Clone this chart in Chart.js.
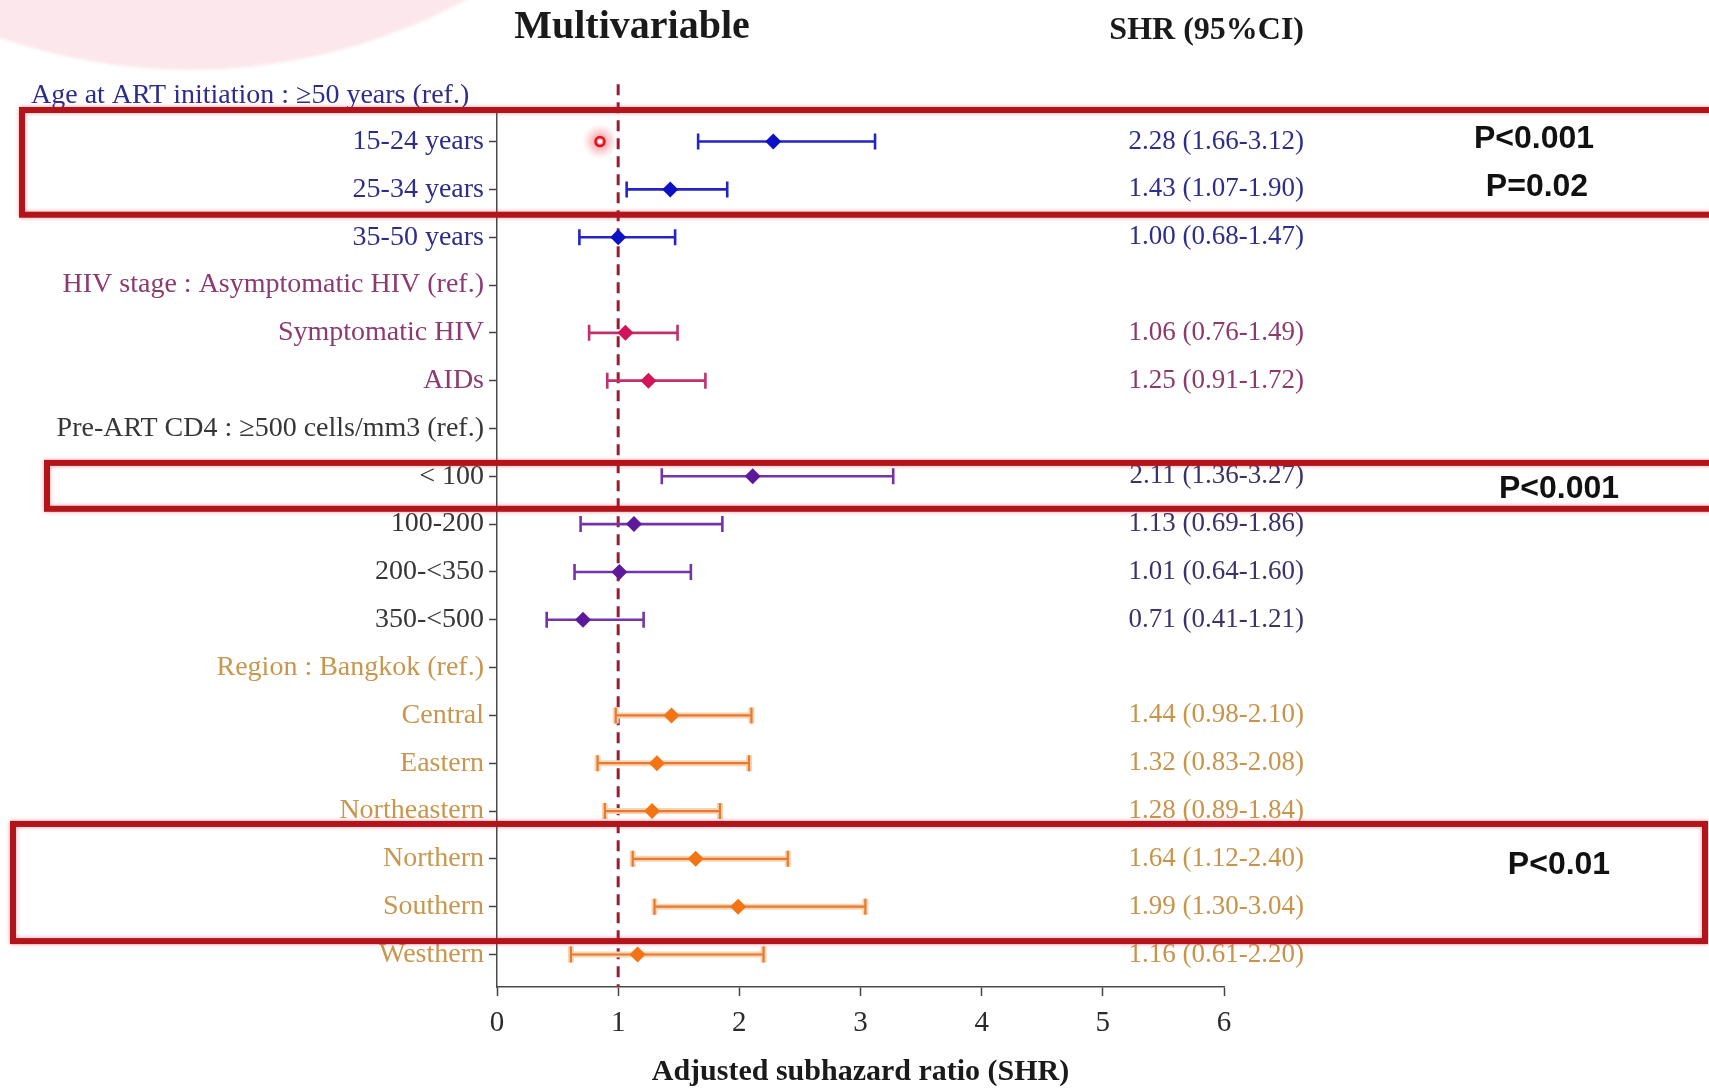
<!DOCTYPE html>
<html>
<head>
<meta charset="utf-8">
<title>Multivariable SHR</title>
<script src="https://cdn.jsdelivr.net/npm/chart.js@4.4.1/dist/chart.umd.min.js"></script>
<style>
  html, body { margin: 0; padding: 0; background: #fff; }
  #wrap { position: relative; width: 1709px; height: 1090px; overflow: hidden; background: #fff; }
  /* pale pink disc in the top-left corner */
  #blob { position: absolute; left: -390px; top: -1090px; width: 1160px; height: 1160px;
          border-radius: 50%; background: #fce8ec; filter: blur(1.5px); }
  #chart { position: absolute; left: 0; top: 0; }
</style>
</head>
<body>
<div id="wrap">
  <div id="blob"></div>
  <canvas id="chart" width="1709" height="1090"></canvas>
</div>
<script>
/* ── data ── */
const rows = [
  'Age at ART initiation : ≥50 years (ref.)',
  '15-24 years', '25-34 years', '35-50 years',
  'HIV stage : Asymptomatic HIV (ref.)',
  'Symptomatic HIV', 'AIDs',
  'Pre-ART CD4 : ≥500 cells/mm3 (ref.)',
  '< 100', '100-200', '200-<350', '350-<500',
  'Region : Bangkok (ref.)',
  'Central', 'Eastern', 'Northeastern', 'Northern', 'Southern', 'Westhern'
];
const estimate = [null, 2.28, 1.43, 1.00, null, 1.06, 1.25, null, 2.11, 1.13, 1.01, 0.71, null, 1.44, 1.32, 1.28, 1.64, 1.99, 1.16];
const lower    = [null, 1.66, 1.07, 0.68, null, 0.76, 0.91, null, 1.36, 0.69, 0.64, 0.41, null, 0.98, 0.83, 0.89, 1.12, 1.30, 0.61];
const upper    = [null, 3.12, 1.90, 1.47, null, 1.49, 1.72, null, 3.27, 1.86, 1.60, 1.21, null, 2.10, 2.08, 1.84, 2.40, 3.04, 2.20];
const groupOf  = [0, 0, 0, 0, 1, 1, 1, 2, 2, 2, 2, 2, 3, 3, 3, 3, 3, 3, 3];
const xTicks   = [0, 1, 2, 3, 4, 5, 6];
const refValue = 1;

const pLabels = ['P<0.001', 'P=0.02', 'P<0.001', 'P<0.01'];

/* ── styling ── */
const SERIF = "'Liberation Serif', 'Times New Roman', serif";
const SANS  = "'Liberation Sans', Arial, sans-serif";

const groupStyle = [
  { line: '#2424c4', dot: '#0c12c4', text: '#2e2e8a', value: '#2e2e8a' },              // age
  { line: '#c0306a', dot: '#d2145a', text: '#8c3a70', value: '#8c3a6c' },              // HIV stage
  { line: '#7434a8', dot: '#5c1a9a', text: '#363636', value: '#3c3468' },              // CD4
  { line: '#e67a30', dot: '#f27412', text: '#c8964c', value: '#c8944a', halo: '#f8d4b2' } // region
];

// red highlight frames, in row units of the y scale
const frames = [
  { x0: 22, x1: 1716, top: 0.34, bottom: 2.53 },
  { x0: 47, x1: 1716, top: 7.72, bottom: 8.68 },
  { x0: 13, x1: 1705, top: 15.27, bottom: 17.72 }
];
const pSpots = [
  { cx: 1534, row: 0.94 }, { cx: 1537, row: 1.95 },
  { cx: 1559, row: 8.26 }, { cx: 1559, row: 16.14 }
];

/* ── error bars + reference line, under the markers ── */
const forestBars = {
  id: 'forestBars',
  beforeDatasetsDraw(chart) {
    const { ctx, scales: { x, y }, chartArea } = chart;
    ctx.save();
    // dashed line at SHR = 1
    ctx.strokeStyle = '#9a1c34';
    ctx.lineWidth = 3;
    ctx.setLineDash([11, 7]);
    ctx.beginPath();
    ctx.moveTo(x.getPixelForValue(refValue), y.getPixelForValue(-0.2));
    ctx.lineTo(x.getPixelForValue(refValue), chartArea.bottom);
    ctx.stroke();
    ctx.setLineDash([]);

    estimate.forEach((e, i) => {
      if (e === null) return;
      const st = groupStyle[groupOf[i]];
      const py = y.getPixelForValue(i);
      const a = x.getPixelForValue(lower[i]);
      const b = x.getPixelForValue(upper[i]);
      const passes = st.halo ? [[st.halo, 6], [st.line, 2.2]] : [[st.line, 2.6]];
      passes.forEach(([c, w]) => {
        ctx.strokeStyle = c;
        ctx.lineWidth = w;
        ctx.beginPath();
        ctx.moveTo(a, py); ctx.lineTo(b, py);
        ctx.moveTo(a, py - 8); ctx.lineTo(a, py + 8);
        ctx.moveTo(b, py - 8); ctx.lineTo(b, py + 8);
        ctx.stroke();
      });
    });
    ctx.restore();
  }
};

/* ── headings, value column, p-values, frames ── */
const overlay = {
  id: 'overlay',
  afterDraw(chart) {
    const { ctx, scales: { x, y } } = chart;
    ctx.save();
    ctx.textBaseline = 'middle';

    // first header row sits above the axis
    ctx.fillStyle = groupStyle[0].text;
    ctx.font = `28px ${SERIF}`;
    ctx.textAlign = 'left';
    ctx.fillText(rows[0], 31, y.getPixelForValue(0) + 2);

    ctx.fillStyle = '#1a1a1a';
    ctx.font = `bold 40px ${SERIF}`;
    ctx.textAlign = 'center';
    ctx.fillText('Multivariable', 632, 28);

    ctx.font = `bold 32px ${SERIF}`;
    ctx.textAlign = 'right';
    ctx.fillText('SHR (95%CI)', 1304, 31);

    // SHR (95% CI) column
    ctx.font = `27px ${SERIF}`;
    estimate.forEach((e, i) => {
      if (e === null) return;
      ctx.fillStyle = groupStyle[groupOf[i]].value;
      ctx.fillText(`${e.toFixed(2)} (${lower[i].toFixed(2)}-${upper[i].toFixed(2)})`, 1304, y.getPixelForValue(i));
    });

    // laser-pointer dot
    const lx = x.getPixelForValue(0.85), ly = y.getPixelForValue(1);
    const g = ctx.createRadialGradient(lx, ly, 2, lx, ly, 18);
    g.addColorStop(0, 'rgba(240,60,70,0.6)');
    g.addColorStop(1, 'rgba(250,160,170,0)');
    ctx.fillStyle = g;
    ctx.beginPath(); ctx.arc(lx, ly, 18, 0, Math.PI * 2); ctx.fill();
    ctx.strokeStyle = '#e0141e'; ctx.lineWidth = 2.5;
    ctx.beginPath(); ctx.arc(lx, ly, 4.5, 0, Math.PI * 2); ctx.stroke();
    ctx.fillStyle = '#fff';
    ctx.beginPath(); ctx.arc(lx, ly, 2.2, 0, Math.PI * 2); ctx.fill();

    // highlight frames
    ctx.strokeStyle = '#b3141c';
    ctx.lineWidth = 6;
    ctx.shadowColor = 'rgba(210,40,50,0.45)';
    ctx.shadowBlur = 4;
    frames.forEach(f => {
      const t = y.getPixelForValue(f.top), b = y.getPixelForValue(f.bottom);
      ctx.strokeRect(f.x0, t, f.x1 - f.x0, b - t);
    });
    ctx.shadowBlur = 0;

    ctx.fillStyle = '#111';
    ctx.font = `bold 32px ${SANS}`;
    ctx.textAlign = 'center';
    pLabels.forEach((p, k) => ctx.fillText(p, pSpots[k].cx, y.getPixelForValue(pSpots[k].row)));
    ctx.restore();
  }
};

const datasets = groupStyle.map((st, gi) => ({
  data: estimate
    .map((e, i) => (e !== null && groupOf[i] === gi ? { x: e, y: i } : null))
    .filter(Boolean),
  pointStyle: 'rectRot',
  pointRadius: 8,
  pointBorderWidth: 0,
  backgroundColor: st.dot,
  borderColor: st.dot,
  showLine: false
}));

new Chart(document.getElementById('chart'), {
  type: 'scatter',
  data: { datasets },
  options: {
    responsive: false,
    animation: false,
    devicePixelRatio: 1,
    layout: { padding: { left: 0, top: 110, right: 485, bottom: 0 } },
    plugins: { legend: { display: false }, tooltip: { enabled: false } },
    scales: {
      x: {
        type: 'linear', min: 0, max: 6,
        afterBuildTicks: s => { s.ticks = xTicks.map(v => ({ value: v })); },
        afterFit: s => { s.height = 103; },
        ticks: { color: '#2a2a2a', font: { family: SERIF, size: 29 }, padding: 10 },
        grid: { drawOnChartArea: false, tickLength: 9, tickColor: '#444', tickWidth: 1.5 },
        border: { color: '#4a4a4a', width: 1.5 },
        title: {
          display: true, text: 'Adjusted subhazard ratio (SHR)', color: '#1a1a1a',
          font: { family: SERIF, size: 30, weight: 'bold' }, padding: { top: 0, bottom: 0 }
        }
      },
      y: {
        type: 'linear', reverse: true, min: 0.34, max: 18.68,
        afterBuildTicks: s => { s.ticks = rows.map((_, i) => ({ value: i })).slice(1); },
        afterFit: s => { s.width = 497; },
        ticks: {
          autoSkip: false, padding: 5,
          callback: v => rows[v],
          color: c => groupStyle[groupOf[c.tick.value]].text,
          font: { family: SERIF, size: 28 }
        },
        grid: { drawOnChartArea: false, tickLength: 8, tickColor: '#444', tickWidth: 1.5 },
        border: { color: '#4a4a4a', width: 1.5 }
      }
    }
  },
  plugins: [forestBars, overlay]
});
</script>
</body>
</html>
